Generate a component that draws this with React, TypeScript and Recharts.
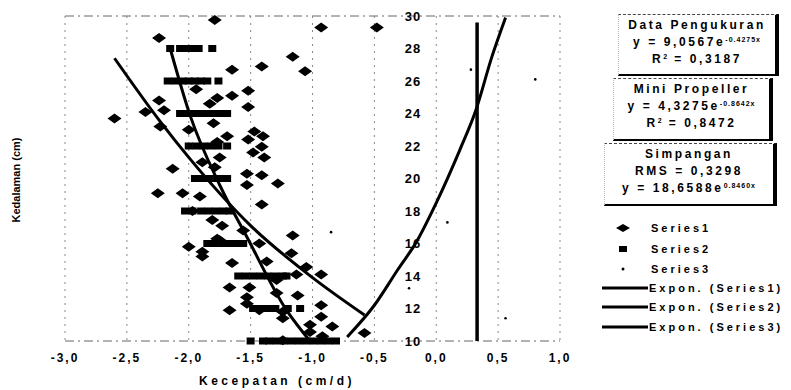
import {
  CartesianGrid,
  ComposedChart,
  Line,
  ReferenceDot,
  Scatter,
  XAxis,
  YAxis,
} from 'recharts';

// Kecepatan (x) vs Kedalaman (y)
const xTicks = [-3, -2.5, -2, -1.5, -1, -0.5, 0, 0.5, 1];
const yTicks = [10, 12, 14, 16, 18, 20, 22, 24, 26, 28, 30];

// Series1 – diamonds (data pengukuran)
const series1: [number, number][] = [
  [-1.79, 29.75], [-2.24, 28.65], [-0.48, 29.3], [-0.93, 29.3], [-1.16, 27.5],
  [-1.06, 26.6], [-1.41, 26.9], [-1.65, 26.7], [-1.94, 25.5], [-1.52, 25.4],
  [-1.65, 25.1], [-1.77, 24.95], [-1.83, 24.6], [-2.24, 24.8], [-2.2, 24.2],
  [-1.52, 24.4], [-2.6, 23.7], [-2.35, 24.1], [-2.23, 23.2], [-2.0, 23.0],
  [-1.8, 23.4], [-1.69, 22.6], [-1.77, 22.25], [-1.47, 22.9], [-1.4, 22.6],
  [-1.52, 22.4], [-1.41, 21.95], [-1.48, 21.6], [-1.39, 21.3], [-1.75, 21.3],
  [-1.89, 21.0], [-2.13, 20.6], [-1.79, 20.7], [-1.53, 20.3], [-1.41, 20.2],
  [-1.53, 19.6], [-1.28, 19.7], [-2.25, 19.1], [-2.05, 19.1], [-1.91, 18.9],
  [-1.41, 18.4], [-1.97, 18.0], [-1.81, 17.45], [-1.73, 17.1], [-1.77, 16.3],
  [-1.16, 16.5], [-1.56, 16.8], [-1.75, 16.2], [-2.0, 15.8], [-1.89, 15.5],
  [-1.89, 15.2], [-1.43, 16.0], [-1.17, 15.4], [-1.65, 14.8], [-1.37, 14.9],
  [-1.05, 14.55], [-0.93, 14.1], [-1.13, 14.1], [-1.29, 13.75], [-1.67, 13.3],
  [-1.51, 13.3], [-1.12, 12.8], [-1.53, 12.7], [-1.53, 12.3], [-1.29, 12.95],
  [-1.67, 11.9], [-1.43, 11.9], [-1.24, 11.8], [-0.93, 12.2], [-0.93, 11.5],
  [-1.24, 11.4], [-1.02, 11.0], [-0.84, 10.9], [-1.02, 10.55], [-0.58, 10.5],
  [-0.92, 10.3], [-1.24, 10.05],
];

// Series2 – small squares (mini propeller), stacked on the even depths
const series2: [number, number][] = [
  [-2.15, 28], [-2.07, 28], [-2.02, 28], [-1.97, 28], [-1.92, 28], [-1.81, 28],
  [-2.17, 26], [-2.11, 26], [-2.05, 26], [-2.0, 26], [-1.95, 26], [-1.9, 26], [-1.85, 26], [-1.76, 26],
  [-2.07, 24], [-2.01, 24], [-1.95, 24], [-1.9, 24], [-1.84, 24], [-1.78, 24], [-1.72, 24], [-1.69, 24],
  [-2.0, 22], [-1.94, 22], [-1.88, 22], [-1.82, 22], [-1.76, 22], [-1.69, 22],
  [-1.95, 20], [-1.89, 20], [-1.83, 20], [-1.77, 20], [-1.72, 20], [-1.69, 20],
  [-2.03, 18], [-1.97, 18], [-1.9, 18], [-1.84, 18], [-1.78, 18], [-1.72, 18], [-1.67, 18],
  [-1.85, 16], [-1.79, 16], [-1.73, 16], [-1.67, 16], [-1.61, 16], [-1.56, 16],
  [-1.6, 14], [-1.54, 14], [-1.48, 14], [-1.42, 14], [-1.36, 14], [-1.3, 14], [-1.24, 14], [-1.21, 14],
  [-1.48, 12], [-1.42, 12], [-1.36, 12], [-1.3, 12], [-1.2, 12], [-1.1, 12],
  [-1.5, 10], [-1.4, 10], [-1.35, 10], [-1.29, 10], [-1.23, 10], [-1.17, 10],
  [-1.11, 10], [-1.05, 10], [-0.99, 10], [-0.93, 10], [-0.87, 10], [-0.81, 10],
];

// Series3 – tiny dots
const series3: [number, number][] = [
  [0.09, 17.3], [-0.22, 13.25], [0.56, 11.4], [-0.85, 16.7], [0.8, 26.1], [0.28, 26.7],
];

// trend lines, points
const trend1: [number, number][] = [
  [-2.6, 27.4], [-2.23, 23.5], [-2.0, 21.3], [-1.5, 17.1], [-1.0, 13.9], [-0.58, 11.6],
];
const trend2: [number, number][] = [
  [-2.15, 28.0], [-1.99, 23.9], [-1.75, 19.6], [-1.53, 16.4], [-1.21, 11.9], [-1.02, 10.0],
];
const trend3: [number, number][] = [
  [-0.72, 10.25], [-0.5, 12.2], [-0.31, 14.4], [-0.16, 16.1], [0.0, 18.5],
  [0.19, 21.75], [0.32, 24.2], [0.45, 27.5], [0.56, 29.9],
];
const rmsLine: [number, number][] = [[0.33, 10], [0.33, 29.6]];

const toPts = (arr: [number, number][]) => arr.map(([x, y]) => ({ x, y }));

const FONT = '"Liberation Sans", Arial, sans-serif';

function Diamond(props: any) {
  const { cx, cy } = props;
  return (
    <path
      d={`M${cx - 7},${cy} L${cx},${cy - 5} L${cx + 7},${cy} L${cx},${cy + 5} Z`}
      fill="#000"
    />
  );
}

function Square(props: any) {
  const { cx, cy } = props;
  return <rect x={cx - 4} y={cy - 3.5} width={8} height={7} fill="#000" />;
}

function Dot(props: any) {
  const { cx, cy } = props;
  return <circle cx={cx} cy={cy} r={1.3} fill="#000" />;
}

const fmtComma = (v: number) => v.toFixed(1).replace('.', ',');

const boxText: React.CSSProperties = {
  fontFamily: FONT,
  fontWeight: 700,
  fontSize: 12,
  letterSpacing: 2.6,
  textAlign: 'center',
  lineHeight: '17px',
  color: '#000',
  whiteSpace: 'nowrap',
};

function EqBox({
  left,
  top,
  width,
  height,
  lines,
}: {
  left: number;
  top: number;
  width: number;
  height: number;
  lines: React.ReactNode[];
}) {
  return (
    <div
      style={{
        position: 'absolute',
        left,
        top,
        width,
        height,
        boxSizing: 'border-box',
        borderTop: '1px dashed #444',
        borderLeft: '1px dotted #bbb',
        borderRight: '4px solid #000',
        borderBottom: '2px solid #000',
        background: '#fff',
        paddingTop: 2,
        ...boxText,
      }}
    >
      {lines.map((l, i) => (
        <div key={i}>{l}</div>
      ))}
    </div>
  );
}

const sup = (s: string) => (
  <sup style={{ fontSize: 7, letterSpacing: 1, verticalAlign: 4, lineHeight: 0 }}>{s}</sup>
);

const legendRow: React.CSSProperties = {
  position: 'absolute',
  fontFamily: FONT,
  fontWeight: 700,
  fontSize: 11,
  letterSpacing: 3,
  color: '#000',
  whiteSpace: 'nowrap',
  lineHeight: '14px',
};

export default function App() {
  return (
    <div style={{ position: 'absolute', left: 0, top: 0, width: 791, height: 390, background: '#fff' }}>
      <ComposedChart
        width={791}
        height={390}
        margin={{ top: 16, right: 231, left: 65, bottom: 19 }}
      >
        <CartesianGrid
          horizontal={true}
          vertical={false}
          stroke="#666"
          strokeDasharray="9 4 2 4"
          strokeWidth={1}
        />
        <CartesianGrid
          horizontal={false}
          vertical={true}
          stroke="#888"
          strokeDasharray="2 5"
          strokeWidth={1}
        />
        <XAxis
          type="number"
          dataKey="x"
          domain={[-3, 1]}
          ticks={xTicks}
          tickFormatter={fmtComma}
          axisLine={false}
          tickLine={false}
          tickMargin={6}
          height={30}
          tick={{ fontSize: 12, fontWeight: 700, fill: '#000', fontFamily: FONT, letterSpacing: 2 }}
          interval={0}
        />
        <YAxis
          type="number"
          dataKey="y"
          domain={[10, 30]}
          ticks={yTicks}
          tick={false}
          axisLine={false}
          tickLine={false}
          width={0}
        />
        {yTicks.map((t) => (
          <ReferenceDot
            key={t}
            x={0}
            y={t}
            r={0}
            stroke="none"
            fill="none"
            label={{
              value: String(t),
              position: 'left',
              offset: 15,
              fill: '#000',
              fontSize: 13,
              fontWeight: 700,
              fontFamily: FONT,
              letterSpacing: 1,
            }}
          />
        ))}
        <Scatter data={toPts(series1)} shape={Diamond} isAnimationActive={false} />
        <Scatter data={toPts(series2)} shape={Square} isAnimationActive={false} />
        <Scatter data={toPts(series3)} shape={Dot} isAnimationActive={false} />
        <Line
          data={toPts(trend1)}
          dataKey="y"
          type="monotone"
          stroke="#000"
          strokeWidth={3}
          dot={false}
          isAnimationActive={false}
        />
        <Line
          data={toPts(trend2)}
          dataKey="y"
          type="monotone"
          stroke="#000"
          strokeWidth={3}
          dot={false}
          isAnimationActive={false}
        />
        <Line
          data={toPts(trend3)}
          dataKey="y"
          type="monotone"
          stroke="#000"
          strokeWidth={3}
          dot={false}
          isAnimationActive={false}
        />
        <Line
          data={toPts(rmsLine)}
          dataKey="y"
          type="linear"
          stroke="#000"
          strokeWidth={3.5}
          dot={false}
          isAnimationActive={false}
        />
      </ComposedChart>

      {/* axis titles */}
      <div
        style={{
          position: 'absolute',
          left: 16,
          top: 180,
          transform: 'translate(-50%, -50%) rotate(-90deg)',
          fontFamily: FONT,
          fontWeight: 700,
          fontSize: 11,
          whiteSpace: 'nowrap',
        }}
      >
        Kedalaman (cm)
      </div>
      <div
        style={{
          position: 'absolute',
          left: 277,
          top: 381,
          transform: 'translate(-50%, -50%)',
          fontFamily: FONT,
          fontWeight: 700,
          fontSize: 12,
          letterSpacing: 3.5,
          whiteSpace: 'nowrap',
        }}
      >
        Kecepatan (cm/d)
      </div>

      {/* equation boxes */}
      <EqBox
        left={618}
        top={14}
        width={161}
        height={62}
        lines={['Data Pengukuran', <>y = 9,0567e{sup('-0.4275x')}</>, <>R{sup('2')} = 0,3187</>]}
      />
      <EqBox
        left={613}
        top={78}
        width={160}
        height={63}
        lines={['Mini Propeller', <>y = 4,3275e{sup('-0.8642x')}</>, <>R{sup('2')} = 0,8472</>]}
      />
      <EqBox
        left={604}
        top={143}
        width={173}
        height={63}
        lines={['Simpangan', 'RMS = 0,3298', <>y = 18,6588e{sup('0.8460x')}</>]}
      />

      {/* series legend */}
      <svg style={{ position: 'absolute', left: 0, top: 0 }} width={791} height={390} pointerEvents="none">
        <path d="M616,228 L623,224 L630,228 L623,232 Z" fill="#000" />
        <rect x={619} y={246} width={8} height={6} fill="#000" />
        <circle cx={623} cy={269} r={1.5} fill="#000" />
        <line x1={602} y1={288} x2={648} y2={288} stroke="#000" strokeWidth={3} />
        <line x1={602} y1={307} x2={648} y2={307} stroke="#000" strokeWidth={3} />
        <line x1={602} y1={327} x2={648} y2={327} stroke="#000" strokeWidth={3} />
      </svg>
      <div style={{ ...legendRow, left: 651, top: 221 }}>Series1</div>
      <div style={{ ...legendRow, left: 651, top: 242 }}>Series2</div>
      <div style={{ ...legendRow, left: 651, top: 262 }}>Series3</div>
      <div style={{ ...legendRow, left: 649, top: 281 }}>Expon. (Series1)</div>
      <div style={{ ...legendRow, left: 649, top: 300 }}>Expon. (Series2)</div>
      <div style={{ ...legendRow, left: 649, top: 320 }}>Expon. (Series3)</div>
    </div>
  );
}
